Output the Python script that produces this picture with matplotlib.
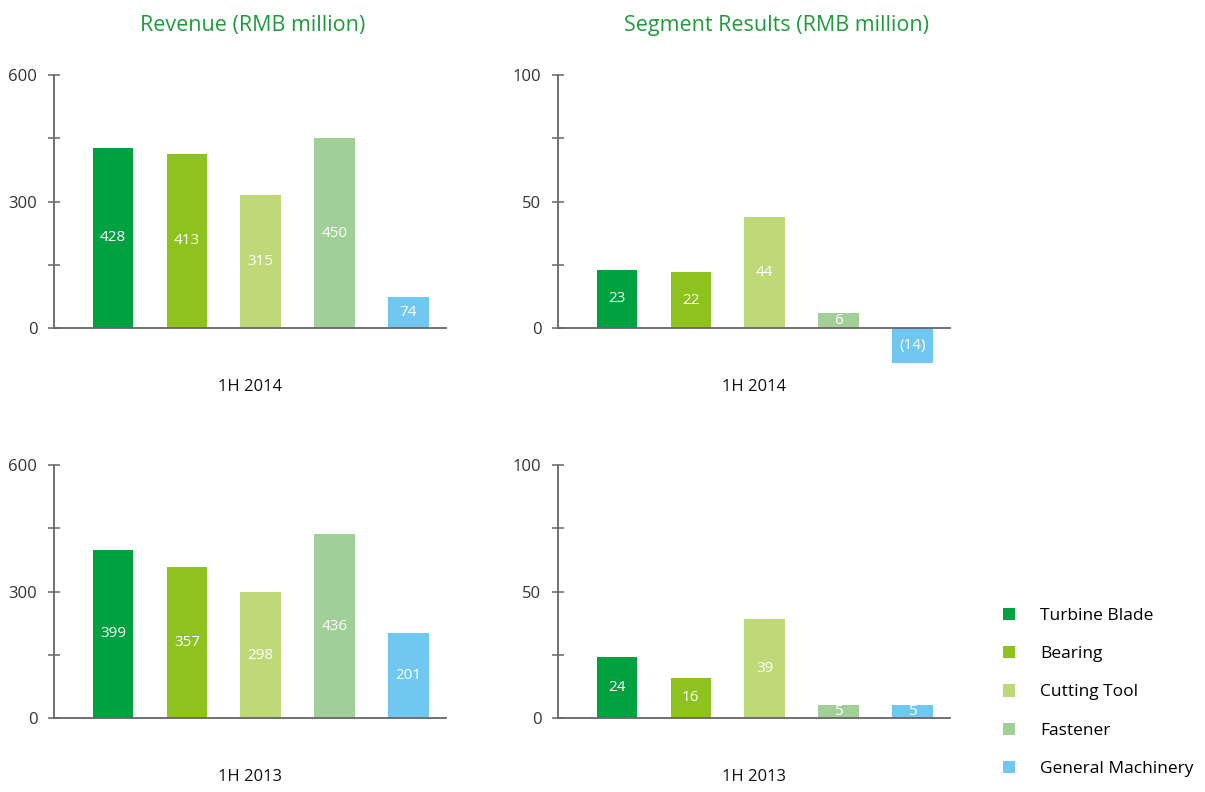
import matplotlib.pyplot as plt
from matplotlib.patches import Patch
from matplotlib.ticker import FixedLocator

plt.rcParams['font.family'] = ['Open Sans', 'DejaVu Sans']

categories = ["Turbine Blade", "Bearing", "Cutting Tool", "Fastener", "General Machinery"]
colors = ["#00A140", "#8EC21F", "#BEDA78", "#A1CF98", "#70C8F0"]

revenue_2014 = [428, 413, 315, 450, 74]
revenue_2013 = [399, 357, 298, 436, 201]
segment_2014 = [23, 22, 44, 6, -14]
segment_2013 = [24, 16, 39, 5, 5]

W, H = 1205, 792
fig = plt.figure(figsize=(W / 100, H / 100), dpi=100)

title_green = "#1E9B3C"
axis_grey = "#666666"


def fmt(v):
    return f"({abs(v)})" if v < 0 else f"{v}"


def panel(x0, y_top, values, ymax, period):
    # axes spans from the ymax line down to 40px below the zero line
    zero_px = y_top + 253
    bottom_px = zero_px + 40
    ax = fig.add_axes([x0 / W, 1 - bottom_px / H, 392 / W, (bottom_px - y_top) / H])
    x = list(range(len(values)))
    ax.bar(x, values, width=0.55, color=colors)
    for xi, v in zip(x, values):
        ax.text(xi, v / 2, fmt(v), ha="center", va="center",
                color="white", fontsize=11)
    ax.set_xlim(-0.80, 4.51)
    ax.set_ylim(-ymax * 40 / 253, ymax)
    for s in ("top", "right"):
        ax.spines[s].set_visible(False)
    ax.spines["bottom"].set_position(("data", 0))
    ax.spines["left"].set_bounds(0, ymax)
    for s in ("left", "bottom"):
        ax.spines[s].set_color(axis_grey)
        ax.spines[s].set_linewidth(1.3)
    ax.set_xticks([])
    ax.yaxis.set_major_locator(FixedLocator([0, ymax / 2, ymax]))
    ax.yaxis.set_minor_locator(FixedLocator([ymax / 4, ymax * 3 / 4]))
    ax.tick_params(axis="y", which="both", direction="inout", length=8,
                   width=1.1, color=axis_grey, labelsize=12, labelcolor="#333333", pad=8)
    ax.set_yticklabels([f"{int(t)}" for t in [0, ymax / 2, ymax]])
    ax.set_facecolor("none")
    fig.text((x0 + 196) / W, 1 - (zero_px + 59) / H, period,
             ha="center", va="center", fontsize=12, color="#111111")
    return ax


panel(54, 75, revenue_2014, 600, "1H 2014")
panel(54, 465, revenue_2013, 600, "1H 2013")
panel(558, 75, segment_2014, 100, "1H 2014")
panel(558, 465, segment_2013, 100, "1H 2013")

fig.text(253 / W, 1 - 25 / H, "Revenue (RMB million)", ha="center", va="center",
         fontsize=15.5, color=title_green)
fig.text(776 / W, 1 - 25 / H, "Segment Results (RMB million)", ha="center", va="center",
         fontsize=15.5, color=title_green)

handles = [Patch(facecolor=c, edgecolor="none") for c in colors]
fig.legend(handles, categories, loc="upper left", bbox_to_anchor=(996 / W, 1 - 601 / H),
           frameon=False, fontsize=12.5, handlelength=0.7, handleheight=0.7,
           handletextpad=1.45, labelspacing=1.27, borderaxespad=0)

fig.savefig("out.png", dpi=100)
